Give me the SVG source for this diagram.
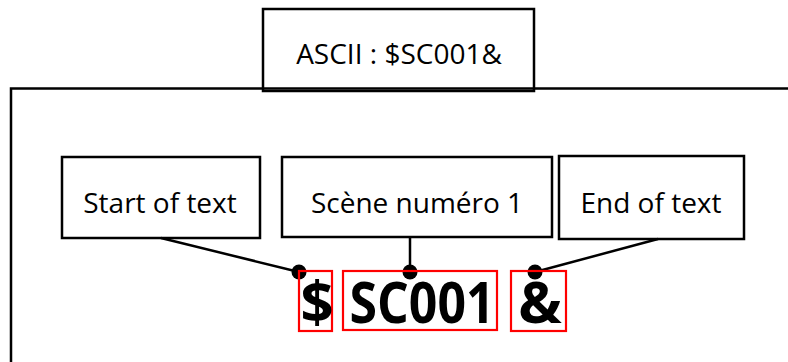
<svg xmlns="http://www.w3.org/2000/svg" width="788" height="362" viewBox="0 0 788 362">
  <defs>
    <style>
      .box { fill: #fff; stroke: #000; stroke-width: 2.5; }
      .hl { fill: none; stroke: #ff0000; stroke-width: 2.2; }
      .lbl { font-family: "Open Sans", "Noto Sans", sans-serif; font-size: 28px; fill: #000; text-anchor: middle; }
      .big { font-family: "Open Sans", "Noto Sans", sans-serif; font-size: 58px; font-weight: bold; fill: #000; text-anchor: middle; }
      .wire { stroke: #000; stroke-width: 2.5; fill: none; }
      .dot { fill: #000; }
    </style>
  </defs>
  <rect width="788" height="362" fill="#fff"/>

  <!-- header tab -->
  <g id="header">
    <rect class="box" x="263" y="9" width="271" height="82"/>
    <text class="lbl" x="399" y="64">ASCII : $SC001&amp;</text>
  </g>

  <!-- outer frame running off the right and bottom edges -->
  <g id="frame">
    <path class="wire" d="M11,362 V88.5 H790"/>
  </g>

  <g id="start">
    <rect class="box" x="62" y="157" width="198" height="81"/>
    <text class="lbl" x="160" y="213">Start of text</text>
  </g>
  <g id="scene">
    <rect class="box" x="282" y="157" width="270" height="80"/>
    <text class="lbl" x="417" y="213">Scène numéro 1</text>
  </g>
  <g id="end">
    <rect class="box" x="559" y="156" width="185" height="83"/>
    <text class="lbl" x="651" y="213">End of text</text>
  </g>

  <g id="connectors">
    <line class="wire" x1="161" y1="238" x2="299" y2="272"/>
    <line class="wire" x1="410" y1="237" x2="410" y2="272"/>
    <line class="wire" x1="658" y1="239" x2="535" y2="272"/>
    <circle class="dot" cx="299" cy="272" r="7.5"/>
    <circle class="dot" cx="410" cy="272" r="7.5"/>
    <circle class="dot" cx="535" cy="272" r="7.5"/>
  </g>

  <g id="code">
    <rect class="hl" x="299" y="271" width="33" height="60"/>
    <rect class="hl" x="343" y="271" width="154" height="59"/>
    <rect class="hl" x="511" y="271" width="55" height="60"/>
    <text class="big" x="317" y="323">$</text>
    <text class="big" x="422" y="323" textLength="145" lengthAdjust="spacingAndGlyphs">SC001</text>
    <text class="big" x="540" y="323">&amp;</text>
  </g>
</svg>
